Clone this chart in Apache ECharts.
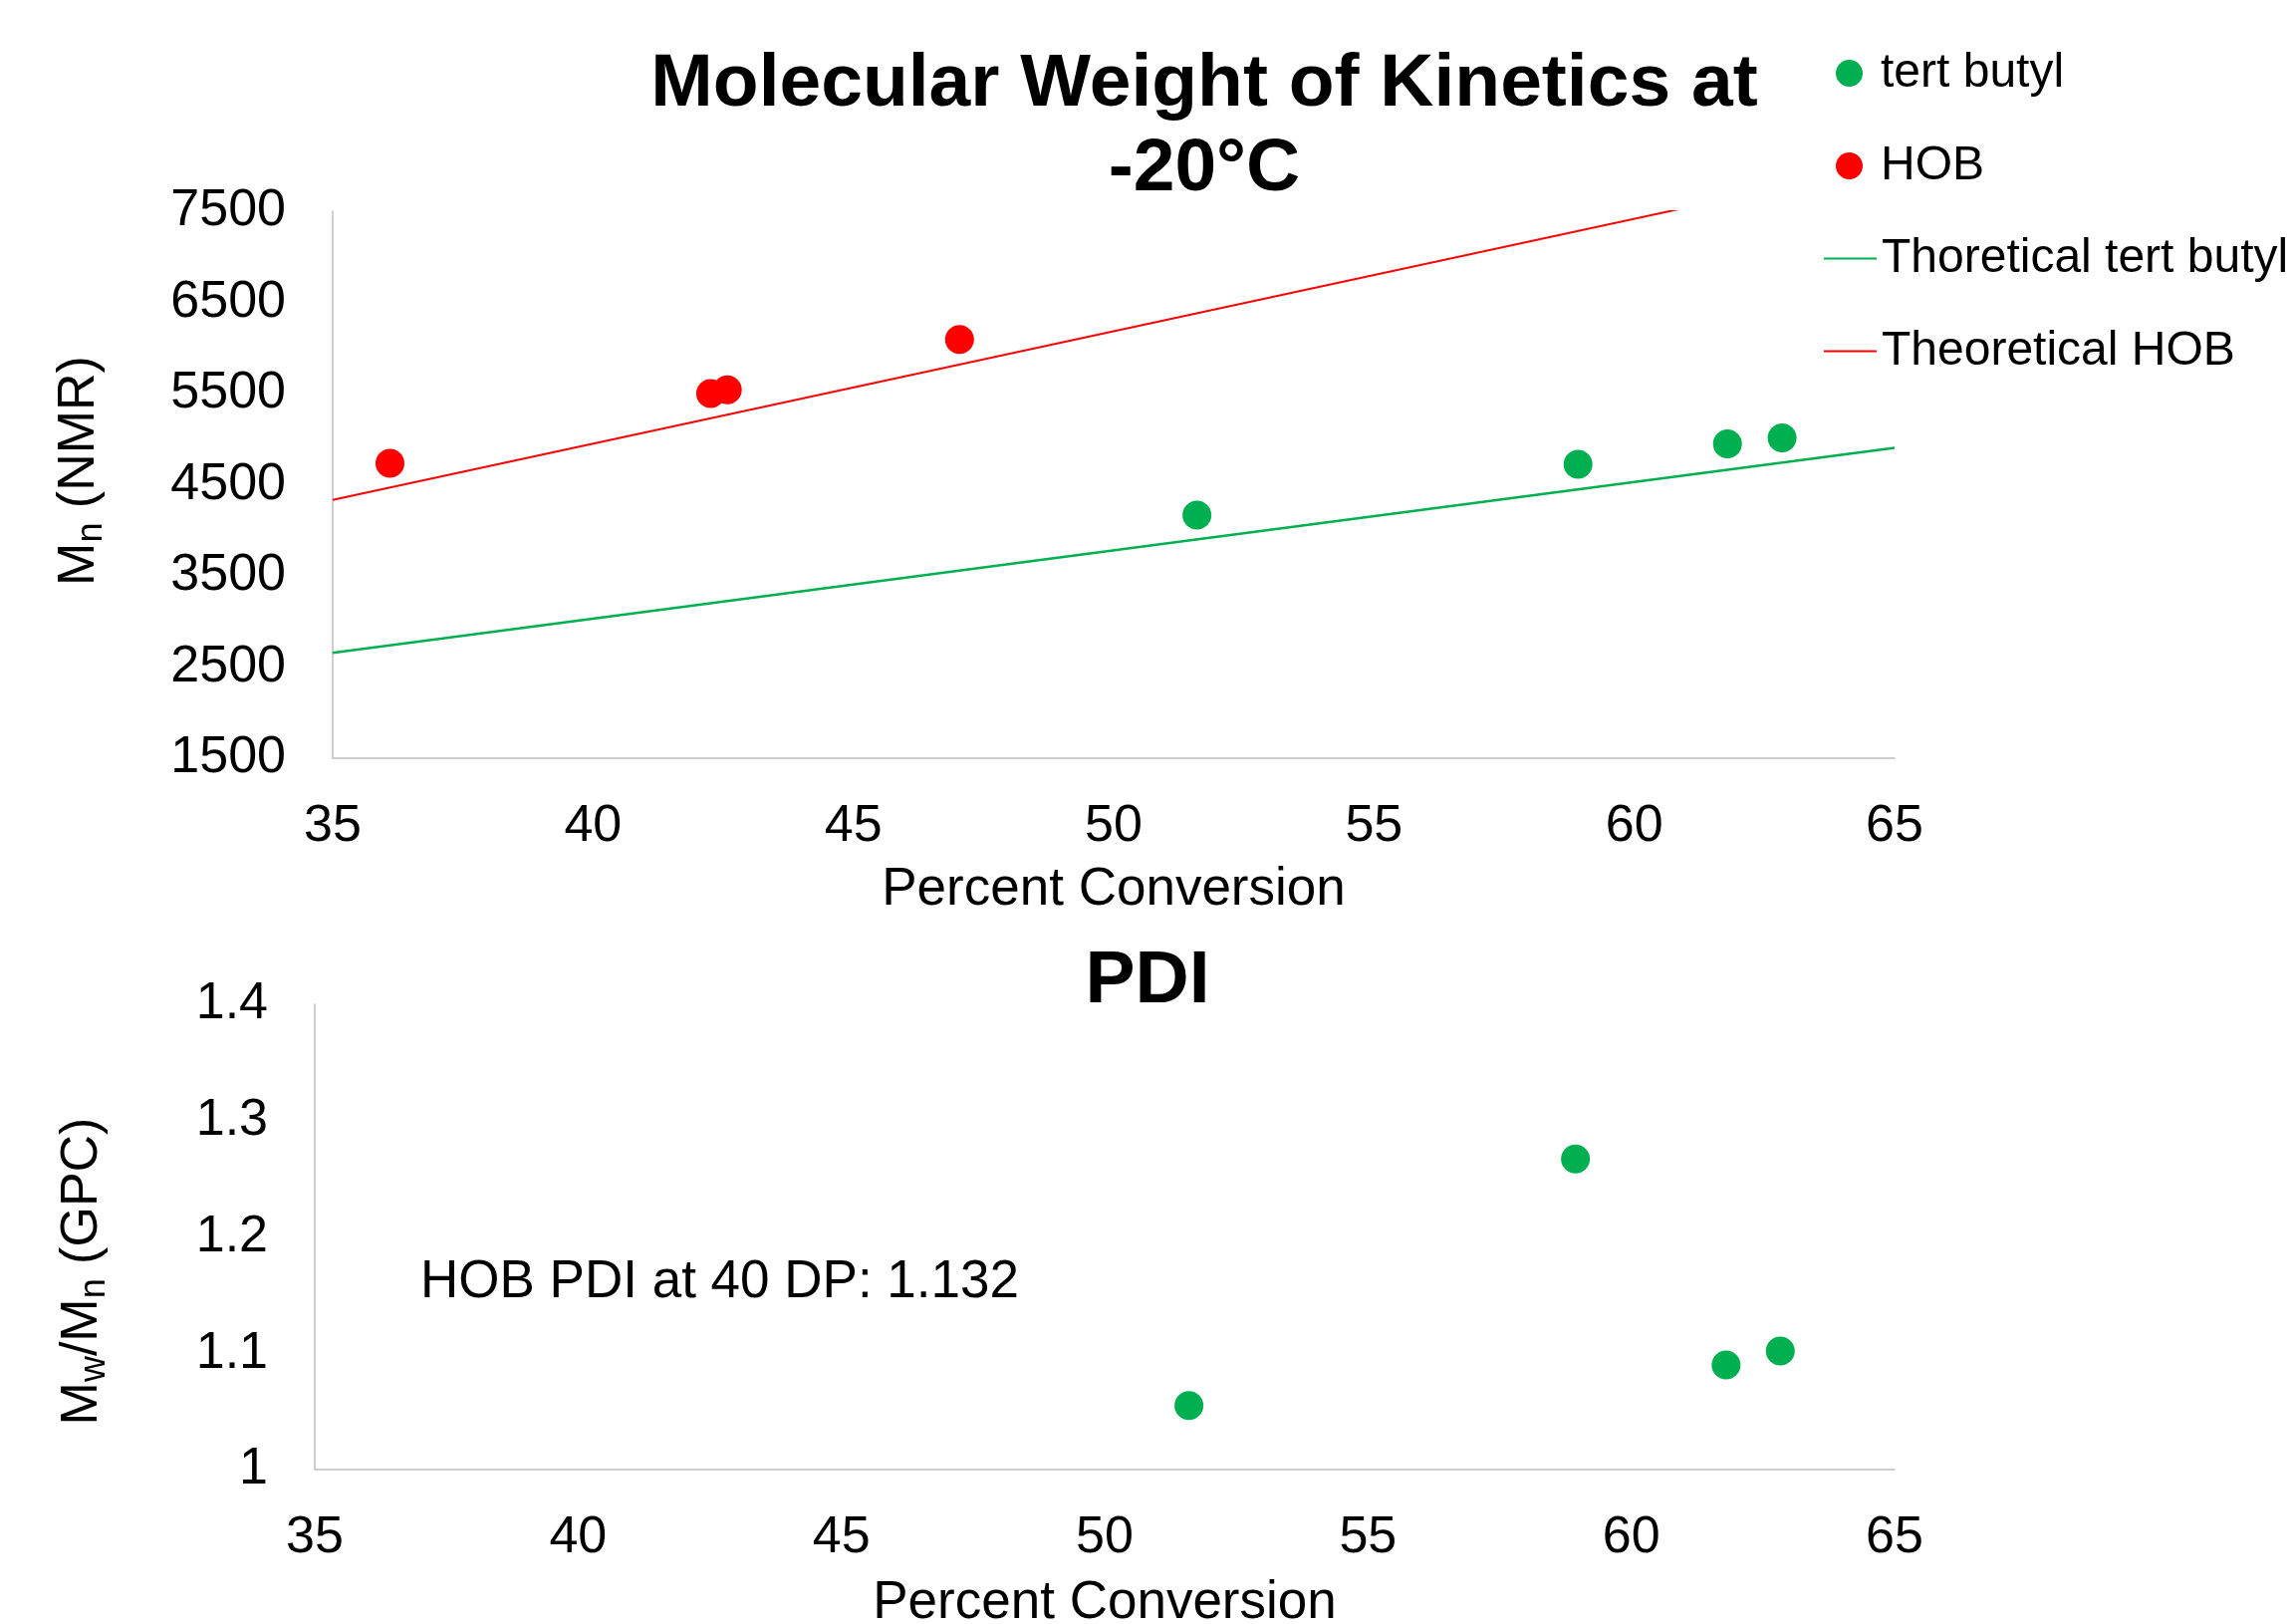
<!DOCTYPE html>
<html>
<head>
<meta charset="utf-8">
<title>Molecular Weight of Kinetics at -20°C</title>
<script src="https://cdn.jsdelivr.net/npm/echarts@6/dist/echarts.min.js"></script>
<style>
  html, body { margin: 0; padding: 0; background: #fff; }
  #chart { width: 2305px; height: 1630px; }
</style>
</head>
<body>
<div id="chart"></div>
<script>
// percent conversion / Mn (NMR)
var tertButylMn = [[51.60, 4167], [58.92, 4725], [61.79, 4949], [62.84, 5014]];
var hobMn = [[36.10, 4735], [42.26, 5500], [42.58, 5540], [47.04, 6094]];
// theoretical lines (end points)
var theoTertButyl = [[35, 2656], [65, 4905]];
var theoHob = [[35, 4334], [65, 8033]];
// percent conversion / PDI
var tertButylPdi = [[51.60, 1.055], [58.94, 1.267], [61.80, 1.090], [62.83, 1.102]];

var xTicks = { min: 35, max: 65, interval: 5 };
var mnTicks = { min: 1500, max: 7500, interval: 1000 };
var pdiTicks = { min: 1, max: 1.4, interval: 0.1 };

var FONT = "'Liberation Sans', Arial, sans-serif";
var GREEN = '#00B050';
var RED = '#FF0000';
var AXIS_GREY = '#BFBFBF';

function xAxisCfg(gridIndex, margin, nameGap) {
  return {
    type: 'value',
    gridIndex: gridIndex,
    min: xTicks.min, max: xTicks.max, interval: xTicks.interval,
    name: 'Percent Conversion',
    nameLocation: 'middle',
    nameGap: nameGap,
    nameTextStyle: { fontFamily: FONT, fontSize: 53, color: '#000', lineHeight: 53 },
    axisLine: { show: true, onZero: false, lineStyle: { color: AXIS_GREY, width: 1.5 } },
    axisTick: { show: false },
    splitLine: { show: false },
    axisLabel: { margin: margin, fontFamily: FONT, fontSize: 52, color: '#000', lineHeight: 53 }
  };
}

function yAxisCfg(gridIndex, ticks, name, nameGap, padding) {
  return {
    type: 'value',
    gridIndex: gridIndex,
    min: ticks.min, max: ticks.max, interval: ticks.interval,
    name: name,
    nameLocation: 'middle',
    nameRotate: 90,
    nameGap: nameGap,
    nameTextStyle: {
      fontFamily: FONT, fontSize: 52, color: '#000', lineHeight: 60, padding: padding,
      rich: {
        sub: { fontFamily: FONT, fontSize: 36, lineHeight: 24, verticalAlign: 'bottom', color: '#000' }
      }
    },
    axisLine: { show: true, lineStyle: { color: AXIS_GREY, width: 1.5 } },
    axisTick: { show: false },
    splitLine: { show: false },
    axisLabel: {
      margin: 47, fontFamily: FONT, fontSize: 52, color: '#000', padding: [4, 0, 0, 0],
      formatter: function (v) { return String(+v.toFixed(4)); }
    }
  };
}

var chart = echarts.init(document.getElementById('chart'));

var option = {
  backgroundColor: '#fff',
  animation: false,
  title: [
    {
      text: 'Molecular Weight of Kinetics at\n-20°C',
      left: 1209, top: 43, textAlign: 'center', padding: 0,
      textStyle: { fontFamily: FONT, fontSize: 75, fontWeight: 'bold', color: '#000', lineHeight: 85 }
    },
    {
      text: 'PDI',
      left: 1152, top: 948, textAlign: 'center', padding: 0,
      textStyle: { fontFamily: FONT, fontSize: 75, fontWeight: 'bold', color: '#000', lineHeight: 74 }
    }
  ],
  legend: [
    {
      orient: 'vertical', left: 1843, top: 47, padding: 0,
      itemWidth: 53, itemHeight: 27, itemGap: 40,
      data: [{ name: 'tert butyl', icon: 'circle' }, { name: 'HOB', icon: 'circle' }],
      textStyle: { fontFamily: FONT, fontSize: 48, color: '#000', lineHeight: 53 }
    },
    {
      orient: 'vertical', left: 1831, top: 233, padding: 0,
      itemWidth: 53, itemHeight: 2, itemGap: 40,
      data: [{ name: 'Thoretical tert butyl', icon: 'rect' }, { name: 'Theoretical HOB', icon: 'rect' }],
      textStyle: { fontFamily: FONT, fontSize: 48, color: '#000', lineHeight: 53 }
    }
  ],
  grid: [
    { left: 334, top: 212, width: 1568, height: 549, outerBoundsMode: 'none' },
    { left: 316, top: 1008, width: 1586, height: 467, outerBoundsMode: 'none' }
  ],
  xAxis: [xAxisCfg(0, 42, 106), xAxisCfg(1, 42, 108)],
  yAxis: [
    yAxisCfg(0, mnTicks, 'M{sub|n} (NMR)', 224, [0, 0, 0, 28]),
    yAxisCfg(1, pdiTicks, 'M{sub|w}/M{sub|n} (GPC)', 203, [0, 69, 0, 0])
  ],
  graphic: [
    {
      type: 'text', left: 422, top: 1288 - 27,
      style: { text: 'HOB PDI at 40 DP: 1.132', font: '53px ' + FONT, fill: '#000' }
    }
  ],
  series: [
    {
      name: 'Thoretical tert butyl', type: 'line', xAxisIndex: 0, yAxisIndex: 0,
      data: theoTertButyl, symbol: 'none', clip: true,
      lineStyle: { color: GREEN, width: 2.5 }, itemStyle: { color: GREEN }
    },
    {
      name: 'Theoretical HOB', type: 'line', xAxisIndex: 0, yAxisIndex: 0,
      data: theoHob, symbol: 'none', clip: true,
      lineStyle: { color: RED, width: 2 }, itemStyle: { color: RED }
    },
    {
      name: 'tert butyl', type: 'scatter', xAxisIndex: 0, yAxisIndex: 0,
      data: tertButylMn, symbolSize: 29, itemStyle: { color: GREEN, opacity: 1 }
    },
    {
      name: 'HOB', type: 'scatter', xAxisIndex: 0, yAxisIndex: 0,
      data: hobMn, symbolSize: 29, itemStyle: { color: RED, opacity: 1 }
    },
    {
      name: 'tert butyl', type: 'scatter', xAxisIndex: 1, yAxisIndex: 1,
      data: tertButylPdi, symbolSize: 29, itemStyle: { color: GREEN, opacity: 1 }
    }
  ]
};

chart.setOption(option);
</script>
</body>
</html>
